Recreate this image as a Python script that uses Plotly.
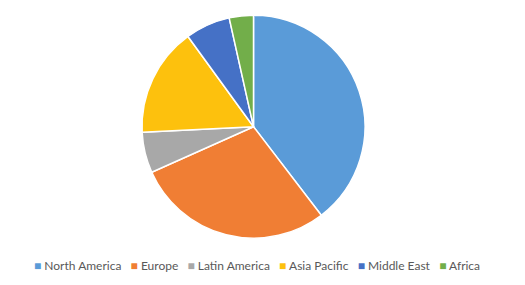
import plotly.graph_objects as go

labels = ["North America", "Europe", "Latin America", "Asia Pacific", "Middle East", "Africa"]
values = [39.6, 28.7, 5.9, 15.8, 6.5, 3.5]
colors = ["#5A9BD8", "#F07E34", "#A8A8A8", "#FDC10D", "#4571C6", "#72AE4A"]

W, H = 525, 285
cx, cy, r = 253.5, 126.7, 111.5

fig = go.Figure(go.Pie(
    labels=labels, values=values, sort=False, direction="clockwise", rotation=0,
    textinfo="none", hoverinfo="label+percent",
    marker=dict(colors=colors, line=dict(color="white", width=1.5)),
    domain=dict(x=[(cx - r) / W, (cx + r) / W], y=[(H - cy - r) / H, (H - cy + r) / H]),
    showlegend=False,
))

legend_text = "&nbsp;&nbsp;&nbsp;".join(
    f"<span style='color:{c};font-size:12px'>■</span>&nbsp;{l}" for l, c in zip(labels, colors)
)
fig.add_annotation(
    text=legend_text, x=257 / W, y=(H - 265) / H, xref="paper", yref="paper",
    xanchor="center", yanchor="middle", showarrow=False,
    font=dict(family="Lato", size=12, color="#595959"),
)

fig.update_layout(
    width=W, height=H, margin=dict(l=0, r=0, t=0, b=0),
    paper_bgcolor="white", plot_bgcolor="white",
)
fig.write_html("out.html")
